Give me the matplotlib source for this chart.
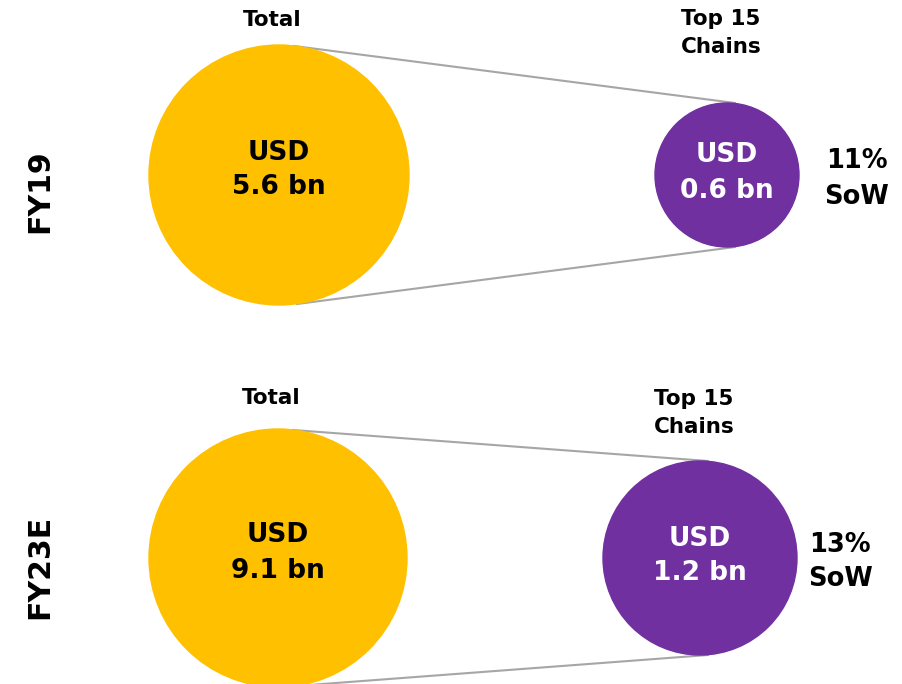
import matplotlib.pyplot as plt
from matplotlib.patches import Circle

plt.rcParams['font.family'] = ['DejaVu Sans']

# data
periods = ["FY19", "FY23E"]
total_bn = [5.6, 9.1]
top15_bn = [0.6, 1.2]
sow_pct = [11, 13]

GOLD = "#FFC000"
PURPLE = "#7030A0"
LINE = "#A6A6A6"

# layout in pixel space (902 x 684)
row_y = [175, 558]
big_x = [279, 278]
big_r = [130, 129]
small_x = [727, 700]
small_r = [72, 97]
sow_x = [857, 840]
total_lab_y = [20, 398]
top_lab_y = [33, 413]
period_lab_y = [191, 567]

fig = plt.figure(figsize=(9.02, 6.84), dpi=100)
ax = fig.add_axes([0, 0, 1, 1])
ax.set_xlim(0, 902)
ax.set_ylim(684, 0)
ax.set_aspect("equal")
ax.axis("off")

for i, p in enumerate(periods):
    cy = row_y[i]
    # connector lines from big circle to small one
    ax.plot([big_x[i] + 15, small_x[i] + 8], [cy - big_r[i] + 1, cy - small_r[i]],
            color=LINE, lw=1.5, zorder=1)
    ax.plot([big_x[i] + 18, small_x[i] + 8], [cy + big_r[i] - 1, cy + small_r[i]],
            color=LINE, lw=1.5, zorder=1)

    ax.add_patch(Circle((big_x[i], cy), big_r[i], color=GOLD, zorder=2))
    ax.add_patch(Circle((small_x[i], cy), small_r[i], color=PURPLE, zorder=2))

    ax.text(big_x[i], cy - 5, f"USD\n{total_bn[i]:.1f} bn", ha="center", va="center",
            fontsize=19, fontweight="bold", color="black", linespacing=1.45, zorder=3)
    ax.text(small_x[i], cy - 2, f"USD\n{top15_bn[i]:.1f} bn", ha="center", va="center",
            fontsize=19, fontweight="bold", color="white", linespacing=1.45, zorder=3)

    ax.text(sow_x[i], cy + 4, f"{sow_pct[i]}%\nSoW", ha="center", va="center",
            fontsize=18.5, fontweight="bold", color="black", linespacing=1.45)

    ax.text(big_x[i] - 7, total_lab_y[i], "Total", ha="center", va="center",
            fontsize=15.5, fontweight="bold")
    ax.text(small_x[i] - 6, top_lab_y[i], "Top 15\nChains", ha="center",
            va="center", fontsize=15.5, fontweight="bold", linespacing=1.45)

    ax.text(40, period_lab_y[i], p, rotation=90, ha="center", va="center",
            fontsize=21.5, fontweight="bold")

fig.savefig("out.png", dpi=100)
